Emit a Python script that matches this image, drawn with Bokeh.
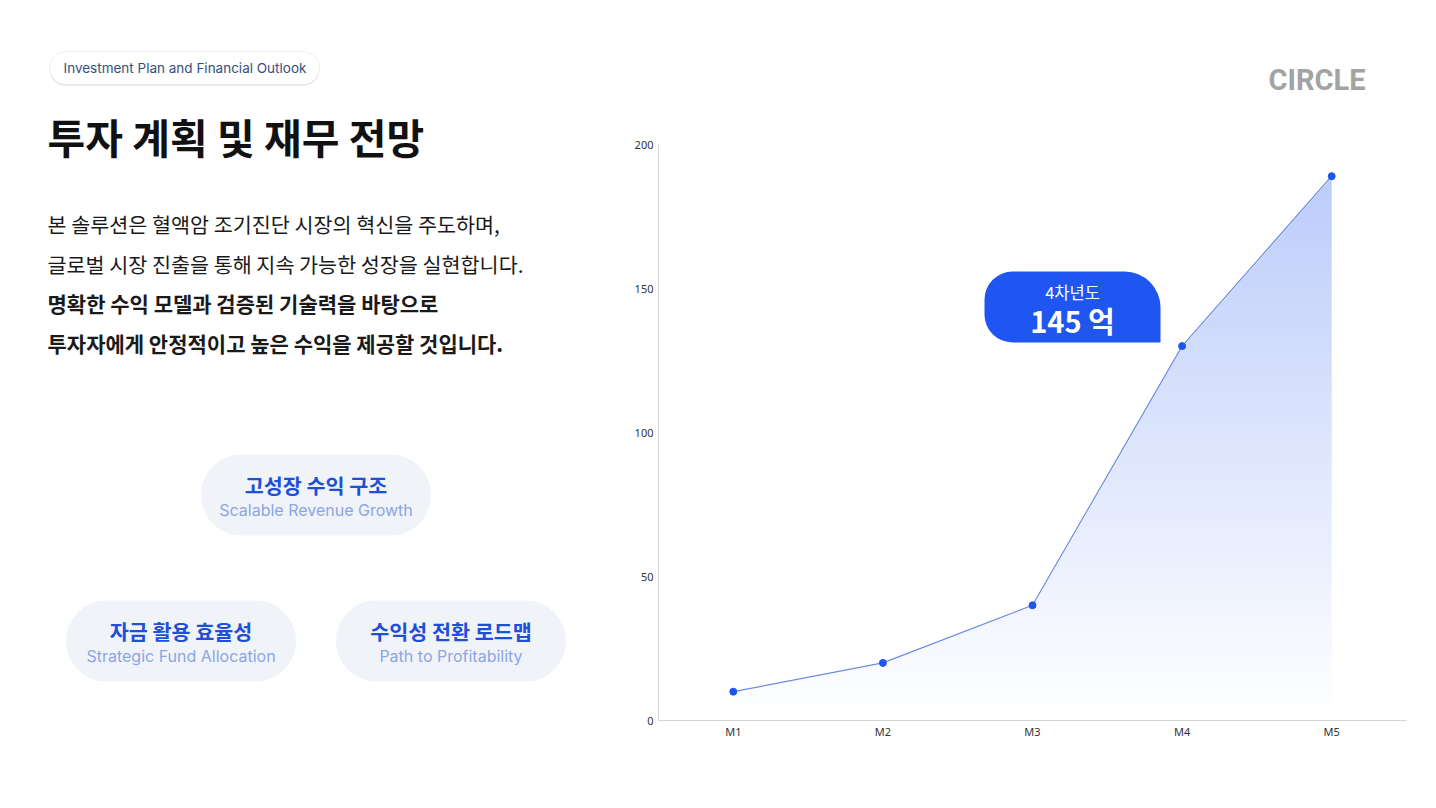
import numpy as np
from bokeh.plotting import figure
from bokeh.layouts import row
from bokeh.models import (Range1d, FixedTicker, Label, BoxAnnotation)
from bokeh.embed import file_html
from bokeh.resources import INLINE

# ---------------- data ----------------
categories = ["M1", "M2", "M3", "M4", "M5"]
revenue = [10, 20, 40, 130, 189]
y_ticks = [0, 50, 100, 150, 200]

tag_text = "Investment Plan and Financial Outlook"
title_text = "투자 계획 및 재무 전망"
body_lines = [
    "본 솔루션은 혈액암 조기진단 시장의 혁신을 주도하며,",
    "글로벌 시장 진출을 통해 지속 가능한 성장을 실현합니다.",
    "명확한 수익 모델과 검증된 기술력을 바탕으로",
    "투자자에게 안정적이고 높은 수익을 제공할 것입니다.",
]
body_bold = [False, False, True, True]
pill_ko = ["고성장 수익 구조", "자금 활용 효율성", "수익성 전환 로드맵"]
pill_en = ["Scalable Revenue Growth", "Strategic Fund Allocation", "Path to Profitability"]
badge_top = "4차년도"
badge_main = "145 억"
brand = "CIRCLE"

KO = "Noto Sans CJK KR"
LAT = "Inter"

PAGE_W, PAGE_H = 1436, 808
LEFT_W = 600
FL, FB = 658, 720          # chart frame left / bottom on the page
FRAME_TOP = 40             # shared frame top on the page (row aligns frames)
AXIS_TOP = 144             # page y of the value 200

# ================= left panel (page-pixel coordinates) =================
L = figure(width=LEFT_W, height=PAGE_H, output_backend="svg", toolbar_location=None,
           x_range=Range1d(0, LEFT_W), y_range=Range1d(PAGE_H - FB, PAGE_H - FRAME_TOP),
           x_axis_location=None, y_axis_location=None,
           min_border_left=0, min_border_right=0,
           min_border_top=FRAME_TOP, min_border_bottom=PAGE_H - FB)
L.outline_line_color = None
L.xgrid.visible = False
L.ygrid.visible = False
L.background_fill_color = "white"
L.border_fill_color = "white"


def ly(py):
    return PAGE_H - py


# soft shadow + tag pill
L.add_layout(BoxAnnotation(left=49, right=319, top=ly(52.5), bottom=ly(85.5),
                           fill_color="#dfe5ec", fill_alpha=0.8, line_color=None,
                           border_radius=17))
L.add_layout(BoxAnnotation(left=49, right=319, top=ly(51), bottom=ly(84),
                           fill_color="white", fill_alpha=1.0, line_color="#c9d2dc",
                           line_width=1, border_radius=17))
L.add_layout(Label(x=63, y=ly(67.5), text=tag_text, text_font=LAT, text_font_size="13.5px",
                   text_color="#34507c", text_align="left", text_baseline="middle"))

L.add_layout(Label(x=47, y=ly(135), text=title_text, text_font=KO, text_font_size="41px",
                   text_font_style="bold", text_color="#111111",
                   text_align="left", text_baseline="middle"))

line_y = [223, 263, 302, 342]
for t, b, yy in zip(body_lines, body_bold, line_y):
    L.add_layout(Label(x=47, y=ly(yy), text=t, text_font=KO,
                       text_font_size="21px" if b else "20.7px",
                       text_font_style="bold" if b else "normal",
                       text_color="#1a1a1a", text_align="left", text_baseline="middle"))

pill_centers = [(315.5, 494.5), (180.5, 640.5), (450.5, 640.5)]
for (cx, cy), ko, en in zip(pill_centers, pill_ko, pill_en):
    L.add_layout(BoxAnnotation(left=cx - 115, right=cx + 115, top=ly(cy - 40.5),
                               bottom=ly(cy + 40.5),
                               fill_color="#f0f4f8", fill_alpha=1.0, line_color=None,
                               border_radius=40))
    L.add_layout(Label(x=cx, y=ly(cy - 10.5), text=ko, text_font=KO, text_font_size="20.7px",
                       text_font_style="bold", text_color="#1f4fd8",
                       text_align="center", text_baseline="middle"))
    L.add_layout(Label(x=cx, y=ly(cy + 15), text=en, text_font=LAT, text_font_size="16px",
                       text_color="#8ca5e4", text_align="center", text_baseline="middle"))

# ================= right panel: chart =================
xs = np.arange(1, len(categories) + 1)
y_end = y_ticks[-1] * (FB - FRAME_TOP) / (FB - AXIS_TOP)

R = figure(width=PAGE_W - LEFT_W, height=PAGE_H, output_backend="svg", toolbar_location=None,
           x_range=Range1d(0.5, len(categories) + 0.5), y_range=Range1d(0, y_end),
           min_border_left=FL - LEFT_W, min_border_right=PAGE_W - 1406,
           min_border_top=FRAME_TOP, min_border_bottom=PAGE_H - FB)
R.outline_line_color = None
R.background_fill_color = "white"
R.border_fill_color = "white"
R.xgrid.visible = False
R.ygrid.visible = False

for ax in (R.xaxis, R.yaxis):
    ax.axis_line_color = "#d4d4d4"
    ax.major_tick_line_color = None
    ax.minor_tick_line_color = None
    ax.major_tick_out = 0
    ax.major_tick_in = 0
    ax.major_label_text_font = "Noto Sans"
    ax.major_label_text_font_size = "11px"
    ax.major_label_text_color = "#333333"
R.xaxis.major_label_standoff = 3
R.yaxis.major_label_standoff = 5
R.xaxis.ticker = FixedTicker(ticks=list(xs))
R.xaxis.major_label_overrides = {int(i): c for i, c in zip(xs, categories)}
R.yaxis.ticker = FixedTicker(ticks=y_ticks)
R.yaxis.bounds = (y_ticks[0], y_ticks[-1])

# gradient area: vertical gradient image masked above the line
N = 256
img = np.zeros((N, 1), dtype=np.uint32)
view = img.view(dtype=np.uint8).reshape((N, 1, 4))
alpha = np.linspace(0, 0.30, N)
view[:, 0, 0] = 30
view[:, 0, 1] = 85
view[:, 0, 2] = 240
view[:, 0, 3] = (alpha * 255).astype(np.uint8)
top = max(revenue)
R.image_rgba(image=[img], x=xs[0], y=0, dw=xs[-1] - xs[0], dh=top)
mask_x = list(xs) + [xs[-1], xs[0]]
mask_y = list(revenue) + [y_ticks[-1], y_ticks[-1]]
R.patch(mask_x, mask_y, fill_color="white", fill_alpha=1.0, line_color="white", line_width=2)

R.line(xs, revenue, line_color="#6b8ae4", line_width=1.2)
R.scatter(xs, revenue, size=7, fill_color="#1f55ee", line_color="#1f55ee")


def sx(px):
    return px - FL


def sy(py):
    return FB - py


R.add_layout(BoxAnnotation(left=sx(984), right=sx(1160), top=sy(271), bottom=sy(342),
                           left_units="screen", right_units="screen",
                           top_units="screen", bottom_units="screen",
                           fill_color="#1f55f0", fill_alpha=1.0, line_color=None,
                           border_radius=(28, 36, 0, 28)))
R.add_layout(Label(x=sx(1072), y=sy(291), x_units="screen", y_units="screen",
                   text=badge_top, text_font=KO, text_font_size="16.5px",
                   text_color="white", text_align="center", text_baseline="middle"))
R.add_layout(Label(x=sx(1072), y=sy(319), x_units="screen", y_units="screen",
                   text=badge_main, text_font=KO, text_font_size="29px", text_font_style="bold",
                   text_color="white", text_align="center", text_baseline="middle"))

R.add_layout(Label(x=sx(1365), y=sy(79), x_units="screen", y_units="screen",
                   text=brand, text_font="Roboto", text_font_size="29px", text_font_style="bold",
                   text_color="#a3a3a3", text_align="right", text_baseline="middle"))

page = row(L, R, spacing=0)
open("out.html", "w").write(file_html(page, INLINE))
